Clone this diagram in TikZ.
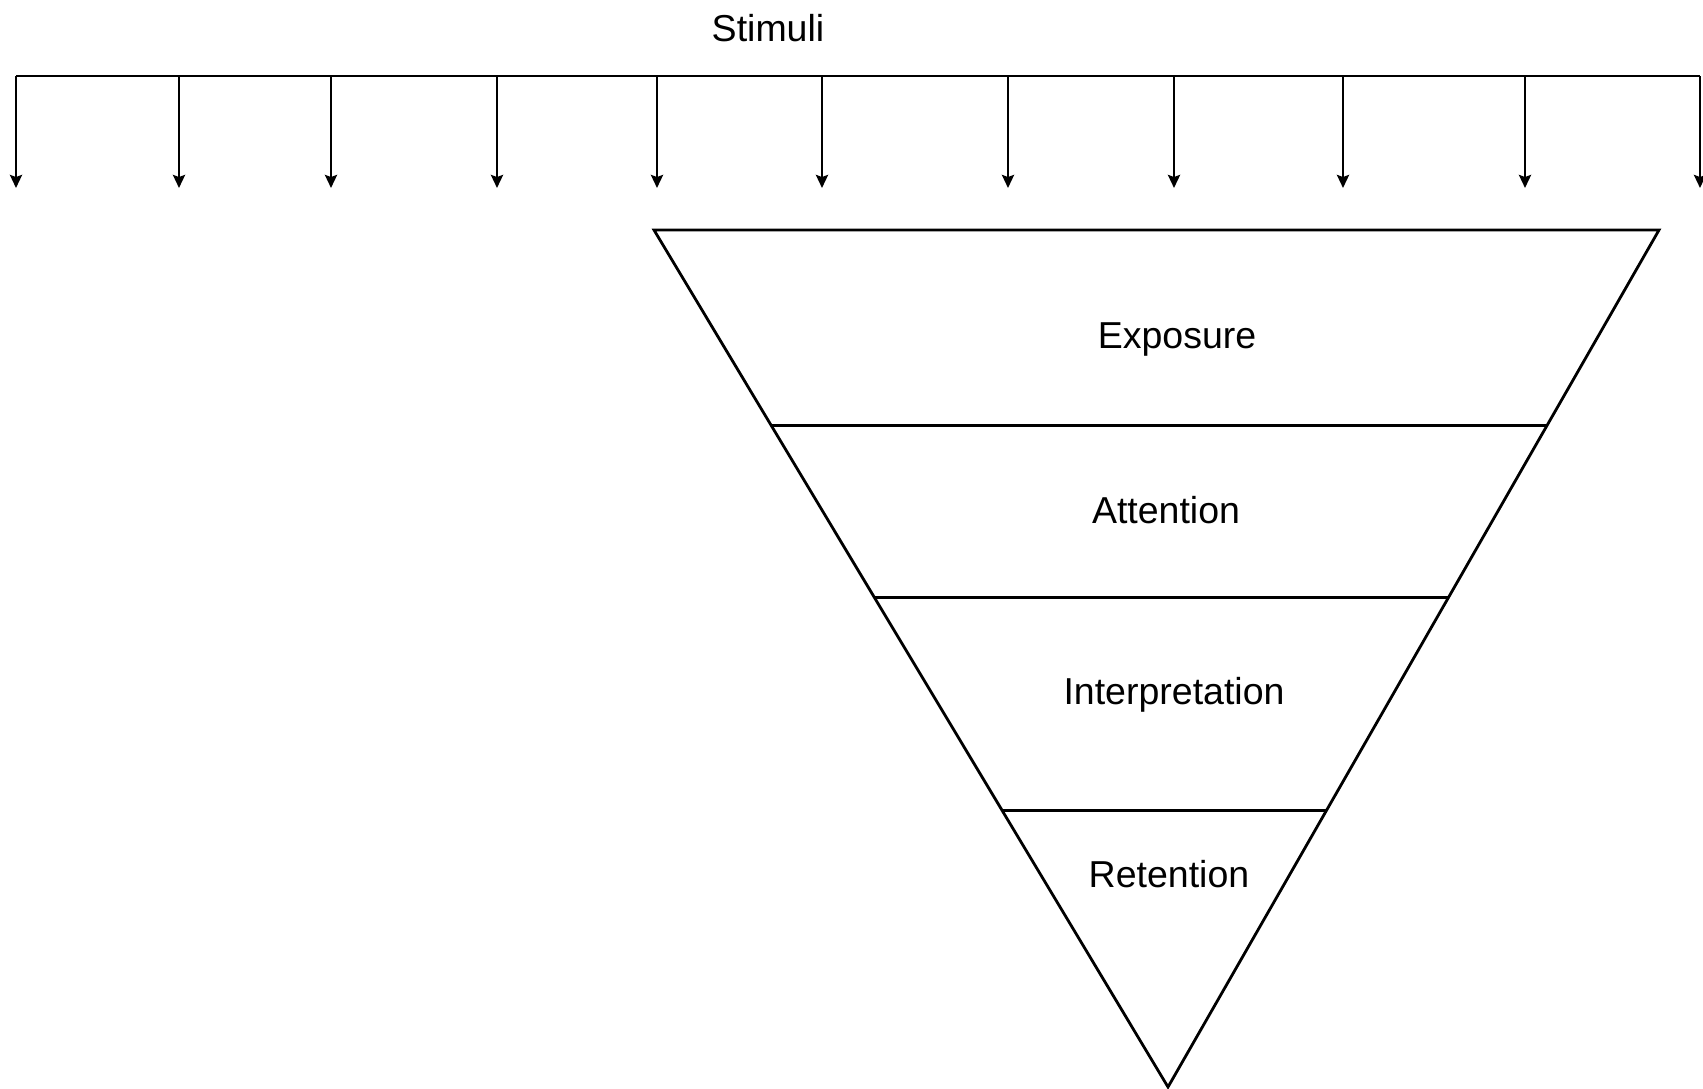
\documentclass[tikz,border=0pt]{standalone}
\usepackage{fontspec}
\setmainfont{Liberation Sans}
\usetikzlibrary{arrows.meta,calc}
\begin{document}
\begin{tikzpicture}[x=1pt,y=-1pt,
  line/.style={line width=2.8pt,line join=miter},
  stim/.style={line width=2.8pt,-{Stealth[length=13pt,width=12pt,inset=2pt]}},
  lbl/.style={inner sep=0pt,font=\fontsize{37.5}{45}\selectfont}]
\useasboundingbox (0,0) rectangle (1703,1088);
% top bar
\coordinate (L) at (16,76);
\coordinate (R) at (1700,76);
\draw[line] (L) -- (R);
\node[lbl] (stimuli) at (768,28) {Stimuli};
\foreach \i/\x in {1/16,2/179,3/331,4/497,5/657,6/822,7/1008,8/1174,9/1343,10/1525,11/1700}{
  \coordinate (s\i) at (\x,76);
  \coordinate (e\i) at (\x,188);
  \draw[stim] (s\i) -- (e\i);
}
% funnel
\coordinate (TL) at (654,230);
\coordinate (TR) at (1659,230);
\coordinate (T) at (1168,1087);
\draw[line] (TL) -- (TR) -- (T) -- cycle;
\foreach \n/\t in {a/0.2284,b/0.4287,c/0.677}{
  \coordinate (l\n) at ($(TL)!\t!(T)$);
  \coordinate (r\n) at ($(TR)!\t!(T)$);
  \draw[line] (l\n) -- (r\n);
}
\node[lbl] (exposure) at (1177,339) {Exposure};
\node[lbl] (attention) at (1166,510) {Attention};
\node[lbl] (interp) at (1174,695) {Interpretation};
\node[lbl] (retention) at (1169,874) {Retention};
\end{tikzpicture}
\end{document}
